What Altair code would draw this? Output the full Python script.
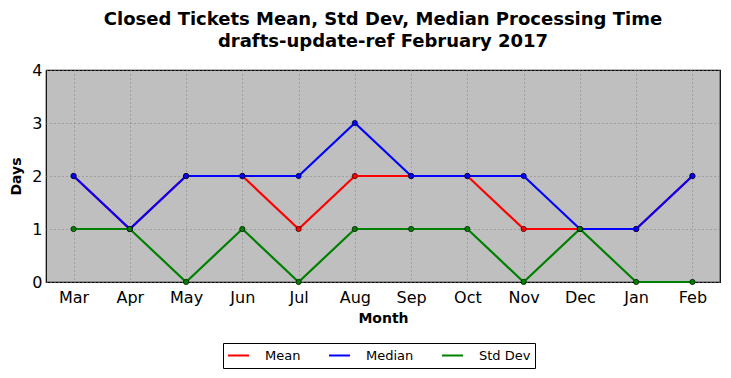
import altair as alt
import pandas as pd

months = ["Mar", "Apr", "May", "Jun", "Jul", "Aug", "Sep", "Oct", "Nov", "Dec", "Jan", "Feb"]
mean_vals = [2, 1, 2, 2, 1, 2, 2, 2, 1, 1, 1, 2]
median_vals = [2, 1, 2, 2, 2, 3, 2, 2, 2, 1, 1, 2]
std_vals = [1, 1, 0, 1, 0, 1, 1, 1, 0, 1, 0, 0]
series = ["Mean", "Median", "Std Dev"]
colors = ["#ff0000", "#0000ff", "#008000"]

rows = []
for name, vals in zip(series, [mean_vals, median_vals, std_vals]):
    for i, (m, v) in enumerate(zip(months, vals)):
        rows.append({"Month": m, "Days": v, "Series": name, "order": i})
df = pd.DataFrame(rows)

FONT = "DejaVu Sans"

x = alt.X("Month:N", sort=months, title="Month",
          scale=alt.Scale(type="point", padding=0.49),
          axis=alt.Axis(labelAngle=0, labelFontSize=16, labelFont=FONT, labelColor="black",
                        titleFontSize=14, titleFont=FONT, titleFontWeight="bold", titleColor="black",
                        ticks=False, labelPadding=7, titlePadding=6, domain=False,
                        grid=True, gridColor="#808080", gridDash=[1, 3], gridWidth=1))
y = alt.Y("Days:Q", title="Days",
          scale=alt.Scale(domain=[0, 4], nice=False),
          axis=alt.Axis(values=[0, 1, 2, 3, 4], format="d", labelFontSize=16, labelFont=FONT,
                        labelColor="black", titleFontSize=14, titleFont=FONT, titleFontWeight="bold",
                        titleColor="black", ticks=False, labelPadding=4, titlePadding=8, domain=False,
                        grid=True, gridColor="#808080", gridDash=[1, 3], gridWidth=1))
color = alt.Color("Series:N", sort=series, title=None,
                  scale=alt.Scale(domain=series, range=colors),
                  legend=alt.Legend(orient="none", legendX=177, legendY=273, direction="horizontal",
                                    columns=3, symbolType="stroke", symbolStrokeWidth=2,
                                    symbolSize=441, clipHeight=17, labelFontSize=13, labelFont=FONT,
                                    labelColor="black", strokeColor="black", fillColor="white",
                                    padding=4, columnPadding=27, labelOffset=15))

lines = alt.Chart(df).mark_line(strokeWidth=2.2).encode(
    x=x, y=y, color=color, order="order:Q", detail="Series:N")
points = alt.Chart(df).mark_point(filled=True, size=28, opacity=1, stroke="black", strokeWidth=0.6).encode(
    x=x, y=y, fill=alt.Fill("Series:N", scale=alt.Scale(domain=series, range=colors), legend=None))

chart = alt.layer(lines, points).properties(
    width=674, height=212,
    title=alt.Title(["Closed Tickets Mean, Std Dev, Median Processing Time",
                     "drafts-update-ref February 2017"],
                    font=FONT, fontSize=18, fontWeight="bold", color="black",
                    anchor="middle", frame="group", lineHeight=22, offset=11),
    autosize=alt.AutoSizeParams(type="none"),
    padding={"left": 38, "top": 62, "right": 3, "bottom": 88},
).configure_view(fill="#bfbfbf", stroke="black", strokeWidth=1.2)

chart.save("out.html", embed_options={"renderer": "svg", "actions": False})
